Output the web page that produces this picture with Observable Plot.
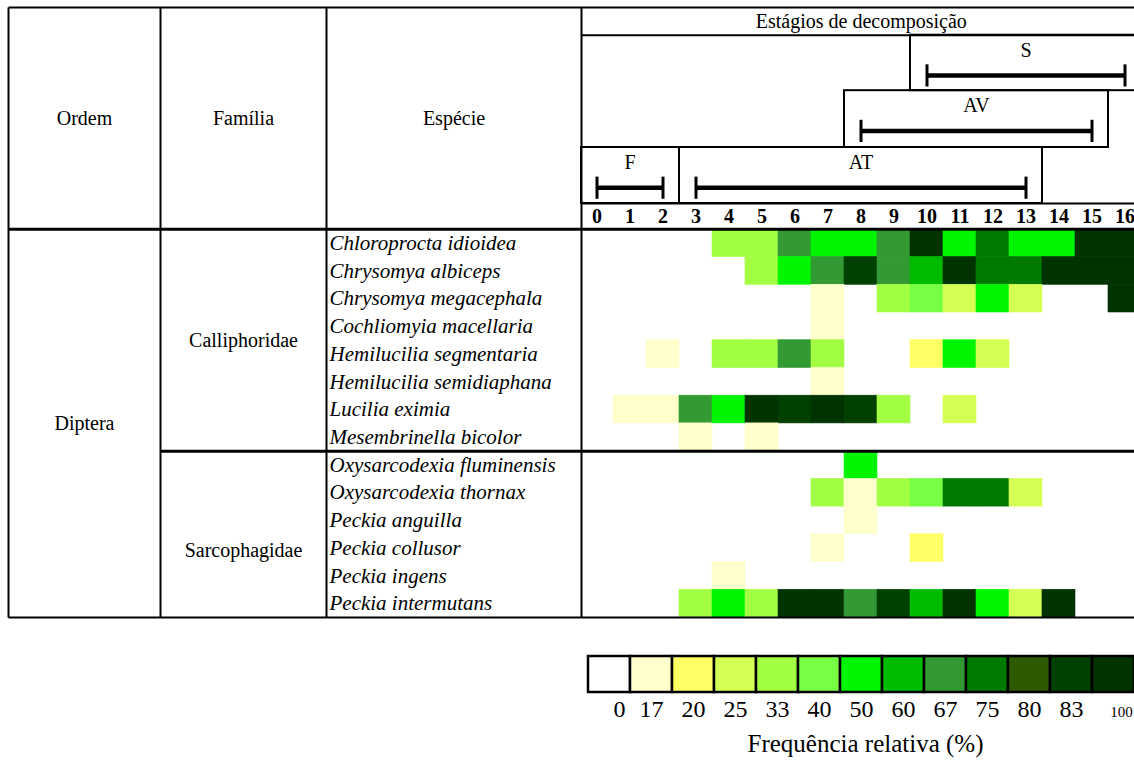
<!DOCTYPE html>
<html><head><meta charset="utf-8">
<script src="https://cdn.jsdelivr.net/npm/d3@7"></script>
<script src="https://cdn.jsdelivr.net/npm/@observablehq/plot@0.6"></script>
<style>body{margin:0;background:#fff;} svg{display:block;}</style>
</head><body><div id="chart"></div>
<script>
// ---------------- DATA ----------------
const days = [0,1,2,3,4,5,6,7,8,9,10,11,12,13,14,15,16];
const ordem = "Diptera";
const families = ["Calliphoridae", "Sarcophagidae"];
const familySize = [8, 6];
const species = [
  "Chloroprocta idioidea", "Chrysomya albiceps", "Chrysomya megacephala", "Cochliomyia macellaria",
  "Hemilucilia segmentaria", "Hemilucilia semidiaphana", "Lucilia eximia", "Mesembrinella bicolor",
  "Oxysarcodexia fluminensis", "Oxysarcodexia thornax", "Peckia anguilla", "Peckia collusor",
  "Peckia ingens", "Peckia intermutans"
];
// relative frequency (%) per species (rows) and day 0..16 (columns)
const freq = [
  [0,0,0,0,33,33,67,50,50,67,100,50,75,50,50,100,100],
  [0,0,0,0,0,33,50,67,83,67,60,100,75,75,100,100,100],
  [0,0,0,0,0,0,0,17,0,33,40,25,50,25,0,0,100],
  [0,0,0,0,0,0,0,17,0,0,0,0,0,0,0,0,0],
  [0,0,17,0,33,33,67,33,0,0,20,50,25,0,0,0,0],
  [0,0,0,0,0,0,0,17,0,0,0,0,0,0,0,0,0],
  [0,17,17,67,50,100,83,100,83,33,0,25,0,0,0,0,0],
  [0,0,0,17,0,17,0,0,0,0,0,0,0,0,0,0,0],
  [0,0,0,0,0,0,0,0,50,0,0,0,0,0,0,0,0],
  [0,0,0,0,0,0,0,33,17,33,40,75,75,25,0,0,0],
  [0,0,0,0,0,0,0,0,17,0,0,0,0,0,0,0,0],
  [0,0,0,0,0,0,0,17,0,0,20,0,0,0,0,0,0],
  [0,0,0,0,17,0,0,0,0,0,0,0,0,0,0,0,0],
  [0,0,0,33,50,33,100,100,67,83,60,100,50,25,100,0,0]
];
const levels = [0,17,20,25,33,40,50,60,67,75,80,83,100];
const levelColors = ["#ffffff","#ffffcc","#ffff66","#d4ff55","#a3ff44","#77ff44","#00f500",
                     "#00bb00","#339933","#007a00","#2f5a00","#004000","#003300"];
const stageNames = ["F", "AT", "AV", "S"];
const stageStart = [0, 3, 8, 10];
const stageEnd = [2, 13, 15, 16];
const stageLane = [2, 2, 1, 0];

// ---------------- LAYOUT ----------------
const W = 1134, H = 630;
const pxToDay = px => (px - 580) / 33 - 0.5;
const rowOf = py => (py - 7) / ((617 - 7) / 22) - 8;
const xL = pxToDay(8), xF = pxToDay(160), xE = pxToDay(326), xH = pxToDay(581), xR = pxToDay(1145);
const yTop = -8, yStage = -7, yDays = rowOf(203), yEnd = species.length;
const laneY = [-7, -5, rowOf(147), yDays];
const serif = "'Liberation Serif', 'Times New Roman', serif";

const cells = [];
species.forEach((s, i) => days.forEach((d, j) => { if (freq[i][j] > 0) cells.push({i, d, v: freq[i][j]}); }));

const famStart = familySize.map((n, k) => familySize.slice(0, k).reduce((a, b) => a + b, 0));
const famLabelY = [famStart[0] + familySize[0] / 2, famStart[1] + familySize[1] / 2 + 0.6];

const thin = [
  {x1: xL, y1: yTop, x2: xR, y2: yTop},
  {x1: xH, y1: yStage, x2: xR, y2: yStage},
  {x1: xH, y1: yDays, x2: xR, y2: yDays},
  {x1: xL, y1: yEnd, x2: xR, y2: yEnd},
  {x1: xL, y1: yTop, x2: xL, y2: yEnd},
  {x1: xF, y1: yTop, x2: xF, y2: yEnd},
  {x1: xE, y1: yTop, x2: xE, y2: yEnd},
  {x1: xH, y1: yTop, x2: xH, y2: yEnd}
];
const thick = [
  {x1: xL, y1: 0, x2: xR, y2: 0},
  {x1: xF, y1: famStart[1], x2: xR, y2: famStart[1]}
];
const stages = stageNames.map((n, k) => ({
  n, a: stageStart[k], b: stageEnd[k],
  left: Math.max(stageStart[k] - 0.5, xH),
  top: laneY[stageLane[k]], bot: laneY[stageLane[k] + 1]
}));

const main = Plot.plot({
  width: W, height: H,
  marginTop: 0, marginBottom: 0, marginLeft: 0, marginRight: 0,
  x: {domain: [pxToDay(0), pxToDay(W)], range: [0, W], axis: null},
  y: {domain: [-8, 14], range: [7, 617], axis: null},
  color: {type: "ordinal", domain: levels, range: levelColors},
  style: {fontFamily: serif, color: "black", background: "white"},
  marks: [
    Plot.rect(cells, {x1: c => c.d - 0.5, x2: c => c.d + 0.5, y1: "i", y2: c => c.i + 1,
      fill: "v", stroke: "v", strokeWidth: 0.6}),
    // stage boxes
    Plot.rect(stages, {x1: "left", x2: s => s.b + 0.5, y1: "top", y2: "bot",
      fill: "none", stroke: "black", strokeWidth: 2}),
    Plot.link(thin, {x1: "x1", y1: "y1", x2: "x2", y2: "y2", stroke: "black", strokeWidth: 2}),
    Plot.link(thick, {x1: "x1", y1: "y1", x2: "x2", y2: "y2", stroke: "black", strokeWidth: 3}),
    // stage brackets
    Plot.link(stages, {x1: "a", x2: "b", y1: s => s.top + 1.45, y2: s => s.top + 1.45, stroke: "black", strokeWidth: 4.5}),
    Plot.link(stages, {x1: "a", x2: "a", y1: s => s.top + 1.05, y2: s => s.top + 1.85, stroke: "black", strokeWidth: 3}),
    Plot.link(stages, {x1: "b", x2: "b", y1: s => s.top + 1.05, y2: s => s.top + 1.85, stroke: "black", strokeWidth: 3}),
    Plot.text(stages, {x: s => (s.a + s.b) / 2, y: s => s.top + 0.55, text: "n", fontSize: 20, fontFamily: serif}),
    // header texts
    Plot.text(["Ordem", "Família", "Espécie"], {x: (d, k) => [(xL + xF) / 2, (xF + xE) / 2, (xE + xH) / 2][k], y: -4,
      text: d => d, fontSize: 20, fontFamily: serif}),
    Plot.text(["Estágios de decomposição"], {x: (xH + pxToDay(W)) / 2 + 0.1, y: -7.5, text: d => d, fontSize: 20, fontFamily: serif}),
    Plot.text(days, {x: d => d, y: (yDays + 0) / 2, text: d => String(d), fontSize: 20, fontWeight: "bold", fontFamily: serif}),
    // left labels
    Plot.text([ordem], {x: (xL + xF) / 2, y: yEnd / 2, text: d => d, fontSize: 20, fontFamily: serif}),
    Plot.text(families, {x: (xF + xE) / 2, y: (d, k) => famLabelY[k], text: d => d, fontSize: 20, fontFamily: serif}),
    Plot.text(species, {x: xE, dx: 3, y: (d, k) => k + 0.5, text: d => d, textAnchor: "start",
      fontSize: 21, fontStyle: "italic", fontFamily: serif})
  ]
});

const legend = Plot.plot({
  width: W, height: 130,
  marginTop: 26, marginBottom: 68, marginLeft: 586, marginRight: 0,
  x: {type: "band", domain: levels, range: [586, 1136], padding: 0, axis: null},
  color: {type: "ordinal", domain: levels, range: levelColors},
  style: {fontFamily: serif, color: "black", background: "white"},
  marks: [
    Plot.cell(levels, {x: d => d, fill: d => d, stroke: "black", strokeWidth: 2.5, inset: 0}),
    Plot.text(levels.filter(d => d === 0), {x: d => d, text: d => String(d), frameAnchor: "bottom", dy: 24, dx: 10, fontSize: 24, fontFamily: serif}),
    Plot.text(levels.filter(d => d > 0 && d < 100), {x: d => d, text: d => String(d), frameAnchor: "bottom", dy: 24, dx: 0, fontSize: 24, fontFamily: serif}),
    Plot.text(levels.filter(d => d === 100), {x: d => d, text: d => String(d), frameAnchor: "bottom", dy: 24, dx: 8, fontSize: 15, fontFamily: serif}),
    Plot.text(["Frequência relativa (%)"], {frameAnchor: "bottom", dy: 59, dx: 5, text: d => d, fontSize: 25, fontFamily: serif})
  ]
});

const root = document.getElementById("chart");
root.appendChild(main);
root.appendChild(legend);
</script>
</body></html>
